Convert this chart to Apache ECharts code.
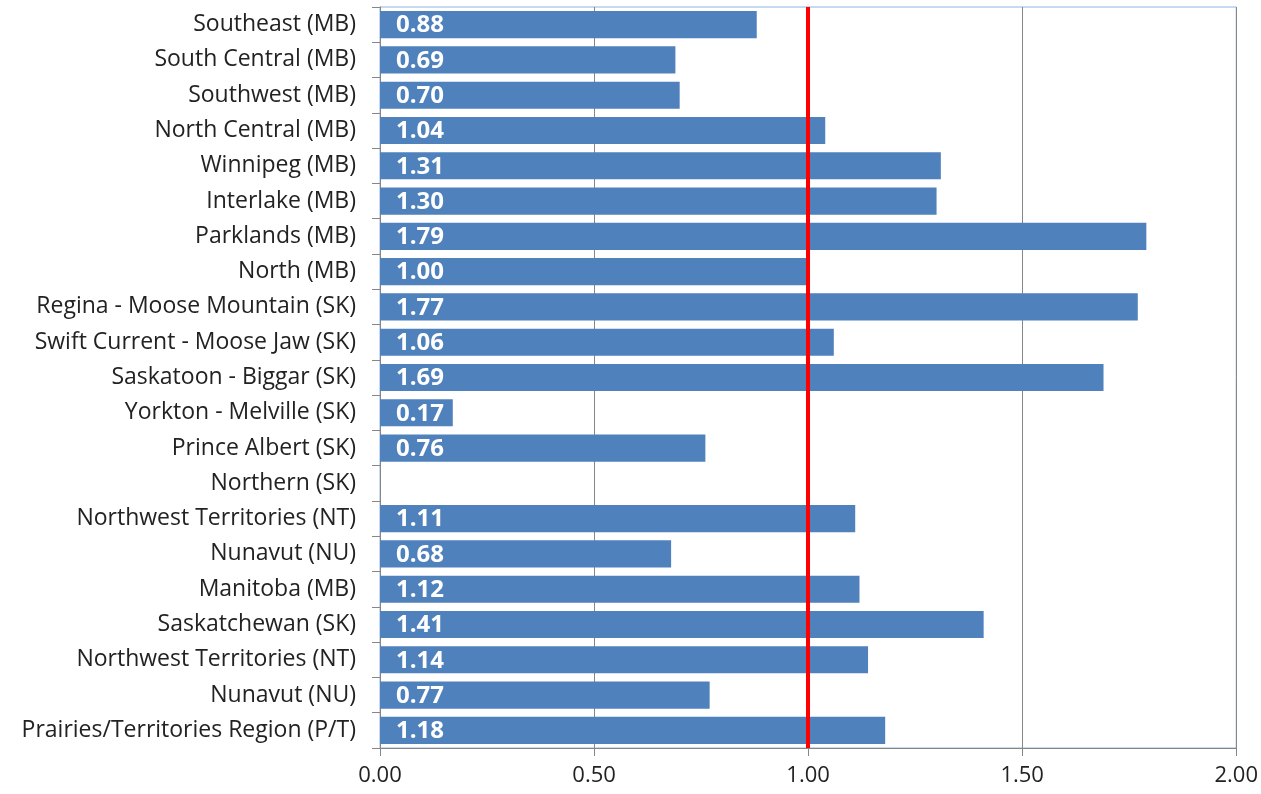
<!DOCTYPE html>
<html><head><meta charset="utf-8">
<script src="https://cdn.jsdelivr.net/npm/echarts@6/dist/echarts.min.js"></script>
<style>html,body{margin:0;padding:0;background:#fff}#c{width:1261px;height:794px}</style>
</head><body><div id="c"></div>
<script>
const categories = ["Southeast (MB)","South Central (MB)","Southwest (MB)","North Central (MB)","Winnipeg (MB)","Interlake (MB)","Parklands (MB)","North (MB)","Regina - Moose Mountain (SK)","Swift Current - Moose Jaw (SK)","Saskatoon - Biggar (SK)","Yorkton - Melville (SK)","Prince Albert (SK)","Northern (SK)","Northwest Territories (NT)","Nunavut (NU)","Manitoba (MB)","Saskatchewan (SK)","Northwest Territories (NT)","Nunavut (NU)","Prairies/Territories Region (P/T)"];
const values = [0.88,0.69,0.70,1.04,1.31,1.30,1.79,1.00,1.77,1.06,1.69,0.17,0.76,null,1.11,0.68,1.12,1.41,1.14,0.77,1.18];
const xTicks = [0, 0.5, 1, 1.5, 2];
const refValue = 1.0;

const chart = echarts.init(document.getElementById('c'));
chart.setOption({
  animation:false,
  grid:{left:380,right:24,top:7,bottom:46,show:true,borderColor:'#8eb4e3',borderWidth:1},
  xAxis:{type:'value',min:xTicks[0],max:xTicks[xTicks.length-1],interval:0.5,
    axisLine:{show:true,lineStyle:{color:'#868686',width:1}},
    axisTick:{show:true,length:8,lineStyle:{color:'#868686'}},
    splitLine:{show:true,lineStyle:{color:'#868686',width:1}},
    axisLabel:{formatter:v=>v.toFixed(2),fontSize:22,color:'#222',fontFamily:'"Open Sans", sans-serif',margin:17}},
  yAxis:{type:'category',data:categories,inverse:true,
    axisLine:{show:true,lineStyle:{color:'#868686'}},
    axisTick:{show:true,length:8,lineStyle:{color:'#868686'}},
    axisLabel:{fontSize:23,color:'#222',fontFamily:'"Open Sans", sans-serif',margin:24}},
  series:[{type:'bar',data:values,barCategoryGap:'23%',
    itemStyle:{color:'#4f81bd'},
    label:{show:true,position:'insideLeft',offset:[11,1],formatter:p=>p.value==null?'':p.value.toFixed(2),
      color:'#fff',fontWeight:'bold',fontSize:24,fontFamily:'"Open Sans", sans-serif'},
    markLine:{symbol:'none',silent:true,label:{show:false},
      lineStyle:{color:'#ff0000',width:4,type:'solid',opacity:1},
      data:[{xAxis:refValue}]}
  }]
});
</script></body></html>
